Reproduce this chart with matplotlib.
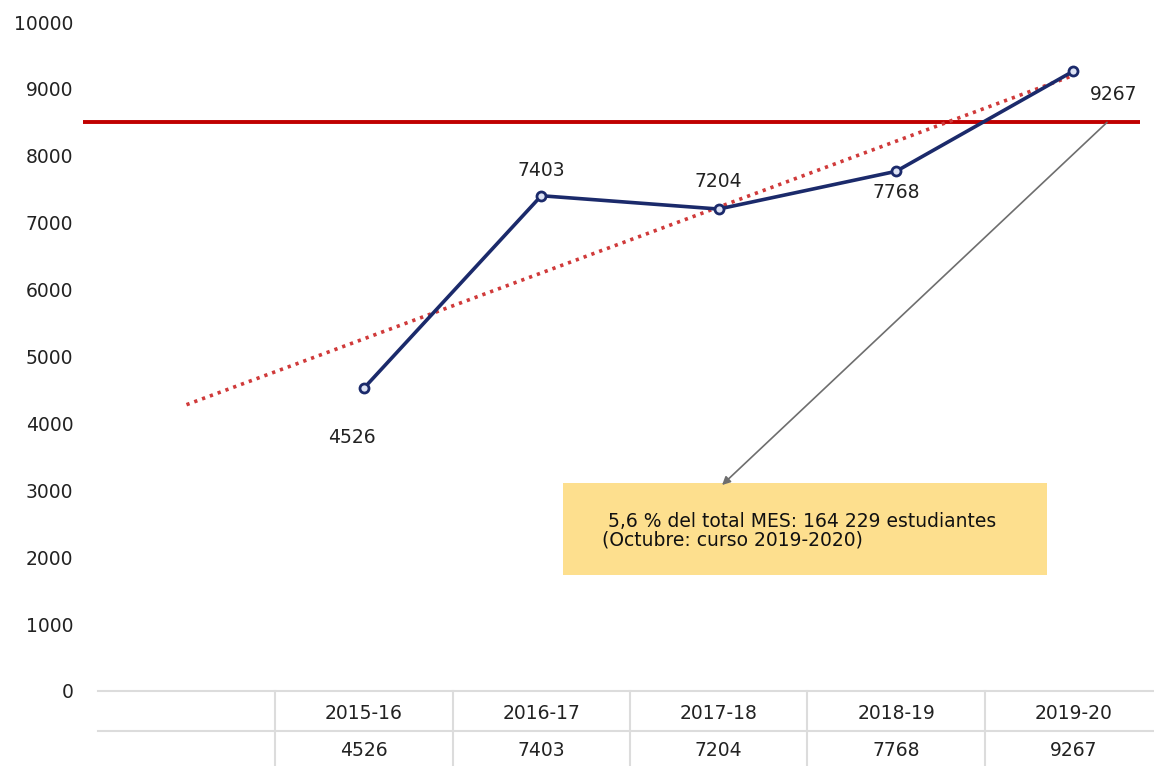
import matplotlib
matplotlib.use("Agg")
import matplotlib.pyplot as plt
import numpy as np

categories = ["2015-16", "2016-17", "2017-18", "2018-19", "2019-20"]
values = [4526, 7403, 7204, 7768, 9267]
reference_level = 8500
y_ticks = [0, 1000, 2000, 3000, 4000, 5000, 6000, 7000, 8000, 9000, 10000]
note_text = " 5,6 % del total MES: 164 229 estudiantes\n(Octubre: curso 2019-2020)"

FS = 13.5
plt.rcParams['font.family'] = ['DejaVu Sans']
fig = plt.figure(figsize=(11.54, 7.66), dpi=100)
ax = fig.add_axes([83/1154, 75/766, 1057/1154, 669/766])
ax.set_xlim(-0.5834, 5.3749)
ax.set_ylim(0, 10000)
for s in ax.spines.values():
    s.set_visible(False)
ax.set_xticks([])
ax.set_yticks(y_ticks)
ax.set_yticklabels([str(t) for t in y_ticks], fontsize=FS, color='#222222')
ax.tick_params(axis='y', length=0, pad=7)

x = np.arange(1, len(values) + 1)

# reference line
ax.axhline(reference_level, color='#C00000', lw=2.8, zorder=2)

# linear trend (fit on data, drawn back one period)
coef = np.polyfit(x, values, 1)
xt = np.array([0, len(values)])
ax.plot(xt, np.polyval(coef, xt), color='#D03A3A', lw=2.6,
        linestyle=(0, (0.9, 1.4)), zorder=3)

# series
ax.plot(x, values, color='#1B2A6B', lw=2.6, marker='o', markersize=6.5,
        markerfacecolor='#DDE3F5', markeredgecolor='#1B2A6B', markeredgewidth=2,
        zorder=4)

offsets = [(-12, -49), (0, 25), (0, 28), (0, -21), (40, -23)]
for xi, v, off in zip(x, values, offsets):
    ax.annotate(str(v), (xi, v), xytext=off, textcoords='offset pixels',
                ha='center', va='center', fontsize=FS, color='#222222')

# note box
ax.add_patch(plt.Rectangle((2.122, 1734), 4.851 - 2.122, 3109 - 1734,
                           facecolor='#FDDF8E', edgecolor='none', zorder=1))
ax.text(2.34, 2390, note_text, fontsize=FS, color='#111111',
        ha='left', va='center', linespacing=0.95, zorder=5)
ax.annotate('', xy=(3.019, 3079), xytext=(5.189, reference_level),
            arrowprops=dict(arrowstyle='-|>', color='#6E6E6E', lw=1.2,
                            mutation_scale=12, shrinkA=0, shrinkB=0),
            zorder=5)

# data table below axis
grid_c = '#DCDCDC'
ax.plot([-0.5, 6.0], [0, 0], color=grid_c, lw=1.5, clip_on=False, zorder=0)
ax.plot([-0.5, 6.0], [-598, -598], color=grid_c, lw=1.5, clip_on=False, zorder=0)
for b in np.arange(0.5, len(values), 1.0):
    ax.plot([b, b], [0, -1200], color=grid_c, lw=1.5, clip_on=False, zorder=0)
for xi, c, v in zip(x, categories, values):
    ax.text(xi, -330, c, ha='center', va='center', fontsize=FS, color='#222222', clip_on=False)
    ax.text(xi, -882, str(v), ha='center', va='center', fontsize=FS, color='#222222', clip_on=False)

fig.savefig("out.png", dpi=100)
